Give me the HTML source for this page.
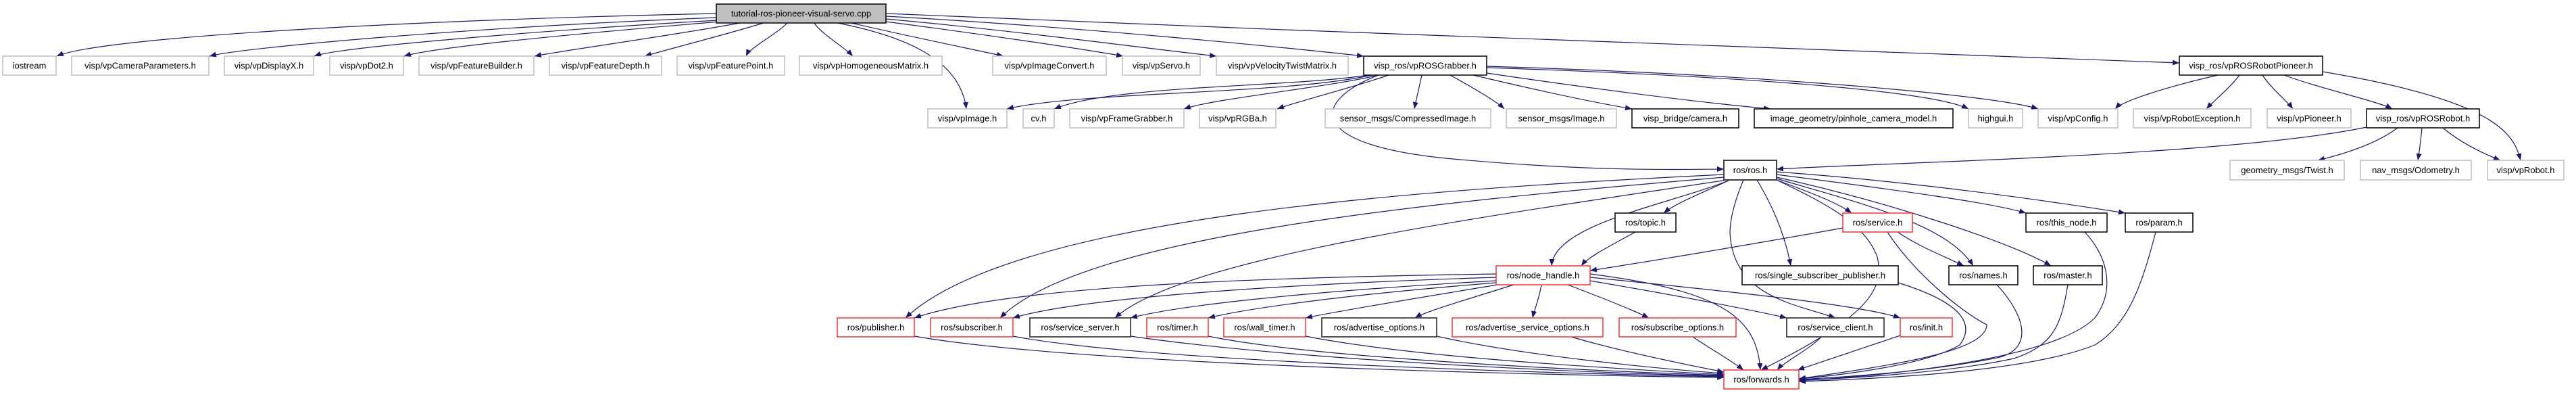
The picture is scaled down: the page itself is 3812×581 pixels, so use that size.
<!DOCTYPE html>
<html><head><meta charset="utf-8"><style>
html,body{margin:0;padding:0;background:#fff}
svg{display:block}
text{font-family:"Liberation Sans",sans-serif;font-size:13px;fill:#000;text-anchor:middle}
.g{fill:#fff;stroke:#bfbfbf;stroke-width:1.5}
.k{fill:#fff;stroke:#000;stroke-width:1.5}
.r{fill:#fff;stroke:#ff3030;stroke-width:1.5}
.e path{fill:none;stroke:#191970;stroke-width:1.2}
</style></head><body>
<svg width="3812" height="581" viewBox="0 0 3812 581" xmlns="http://www.w3.org/2000/svg">
<defs><marker id="a" markerUnits="userSpaceOnUse" markerWidth="11" markerHeight="8" refX="10" refY="4" orient="auto"><path d="M0,0 L10,4 L0,8 z" fill="#191970"/></marker></defs>
<g class="e">
<path marker-end="url(#a)" d="M1060 20 C600 30 150 55 84 83"/>
<path marker-end="url(#a)" d="M1060 26 C700 40 360 70 310 83"/>
<path marker-end="url(#a)" d="M1062 30 C800 45 500 70 465 83"/>
<path marker-end="url(#a)" d="M1065 32 C850 50 640 70 598 83"/>
<path marker-end="url(#a)" d="M1095 34 C980 55 830 75 791 83"/>
<path marker-end="url(#a)" d="M1130 34 C1060 55 980 75 954 83"/>
<path marker-end="url(#a)" d="M1165 34 C1150 50 1110 70 1104 83"/>
<path marker-end="url(#a)" d="M1205 34 C1215 50 1250 70 1262 83"/>
<path marker-end="url(#a)" d="M1240 34 C1320 50 1420 80 1430 161"/>
<path marker-end="url(#a)" d="M1260 34 C1350 55 1450 75 1485 83"/>
<path marker-end="url(#a)" d="M1311 32 C1450 50 1600 72 1662 83"/>
<path marker-end="url(#a)" d="M1311 28 C1500 45 1700 72 1800 83"/>
<path marker-end="url(#a)" d="M1311 24 C1600 40 1900 70 2018 83"/>
<path marker-end="url(#a)" d="M1311 20 C2000 50 2900 80 3225 93"/>
<path marker-end="url(#a)" d="M2030 111 C1900 140 1600 135 1490 161"/>
<path marker-end="url(#a)" d="M2025 111 C1900 130 1650 125 1560 161"/>
<path marker-end="url(#a)" d="M2040 111 C1960 130 1800 145 1752 161"/>
<path marker-end="url(#a)" d="M2055 111 C2000 130 1920 150 1890 161"/>
<path marker-end="url(#a)" d="M2104 111 C2100 130 2095 150 2093 161"/>
<path marker-end="url(#a)" d="M2146 111 C2180 130 2215 150 2226 161"/>
<path marker-end="url(#a)" d="M2180 111 C2260 130 2350 150 2415 161"/>
<path marker-end="url(#a)" d="M2200 108 C2350 130 2500 150 2620 161"/>
<path marker-end="url(#a)" d="M2200 100 C2500 110 2850 130 2913 161"/>
<path marker-end="url(#a)" d="M2200 98 C2600 110 2950 140 3016 161"/>
<path marker-end="url(#a)" d="M2040 111 C1940 150 1930 215 2150 235 S2500 250 2551 250"/>
<path marker-end="url(#a)" d="M3282 111 C3200 130 3140 150 3130 161"/>
<path marker-end="url(#a)" d="M3314 111 C3300 130 3275 150 3265 161"/>
<path marker-end="url(#a)" d="M3348 111 C3360 130 3385 150 3393 161"/>
<path marker-end="url(#a)" d="M3380 111 C3430 130 3520 150 3540 161"/>
<path marker-end="url(#a)" d="M3437 106 C3700 150 3720 200 3730 237"/>
<path marker-end="url(#a)" d="M3502 188 C3300 230 2800 240 2629 250"/>
<path marker-end="url(#a)" d="M3548 189 C3520 210 3480 225 3430 237"/>
<path marker-end="url(#a)" d="M3584 189 C3582 210 3580 225 3578 237"/>
<path marker-end="url(#a)" d="M3615 189 C3640 210 3670 225 3700 237"/>
<path marker-end="url(#a)" d="M2560 266 C2520 285 2480 300 2462 315"/>
<path marker-end="url(#a)" d="M2560 266 C2480 300 2300 330 2296 393"/>
<path marker-end="url(#a)" d="M2551 258 C2100 280 1500 320 1340 470"/>
<path marker-end="url(#a)" d="M2551 262 C2100 300 1600 350 1480 470"/>
<path marker-end="url(#a)" d="M2556 266 C2200 320 1750 380 1650 470"/>
<path marker-end="url(#a)" d="M2580 266 C2570 290 2560 320 2560 345 C2565 440 2660 450 2716 470"/>
<path marker-end="url(#a)" d="M2600 266 C2620 300 2640 340 2650 393"/>
<path marker-end="url(#a)" d="M2629 266 C2680 285 2720 300 2740 315"/>
<path marker-end="url(#a)" d="M2629 264 C2750 300 2880 330 2920 393"/>
<path marker-end="url(#a)" d="M2629 262 C2800 300 2980 360 3035 393"/>
<path marker-end="url(#a)" d="M2629 258 C2800 280 2950 300 2998 315"/>
<path marker-end="url(#a)" d="M2629 254 C2850 270 3050 300 3145 315"/>
<path marker-end="url(#a)" d="M2629 266 C2700 300 2760 330 2778 380 C2790 430 2760 470 2606 547"/>
<path marker-end="url(#a)" d="M2420 343 C2380 365 2350 380 2340 393"/>
<path marker-end="url(#a)" d="M2727 337 C2600 360 2450 385 2353 400"/>
<path marker-end="url(#a)" d="M2808 343 C2840 365 2880 380 2906 393"/>
<path marker-end="url(#a)" d="M2793 343 C2830 400 2900 460 2940 480 C2940 520 2800 540 2662 560"/>
<path marker-end="url(#a)" d="M2214 405 C1900 410 1500 420 1353 470"/>
<path marker-end="url(#a)" d="M2214 410 C1900 420 1600 440 1499 470"/>
<path marker-end="url(#a)" d="M2214 415 C1950 430 1750 450 1673 470"/>
<path marker-end="url(#a)" d="M2214 418 C2000 435 1850 455 1788 470"/>
<path marker-end="url(#a)" d="M2216 421 C2100 440 1980 460 1932 470"/>
<path marker-end="url(#a)" d="M2240 421 C2180 440 2110 460 2094 470"/>
<path marker-end="url(#a)" d="M2281 421 C2278 440 2270 460 2268 470"/>
<path marker-end="url(#a)" d="M2320 421 C2370 440 2420 460 2440 470"/>
<path marker-end="url(#a)" d="M2353 415 C2500 440 2600 460 2644 470"/>
<path marker-end="url(#a)" d="M2353 410 C2550 430 2750 450 2812 470"/>
<path marker-end="url(#a)" d="M2353 405 C2550 430 2600 470 2605 547"/>
<path marker-end="url(#a)" d="M1353 497 C1600 540 2300 555 2551 558"/>
<path marker-end="url(#a)" d="M1499 497 C1700 535 2300 552 2551 557"/>
<path marker-end="url(#a)" d="M1673 497 C1900 530 2300 550 2551 556"/>
<path marker-end="url(#a)" d="M1788 497 C1950 530 2350 548 2551 555"/>
<path marker-end="url(#a)" d="M1932 497 C2100 530 2400 545 2551 554"/>
<path marker-end="url(#a)" d="M2126 497 C2250 525 2450 545 2551 552"/>
<path marker-end="url(#a)" d="M2325 498 C2400 520 2500 540 2551 550"/>
<path marker-end="url(#a)" d="M2505 498 C2530 515 2565 535 2580 547"/>
<path marker-end="url(#a)" d="M2695 498 C2680 515 2640 535 2630 547"/>
<path marker-end="url(#a)" d="M2812 496 C2740 520 2680 540 2660 547"/>
<path marker-end="url(#a)" d="M2809 418 C2880 440 2930 470 2900 510 C2850 540 2720 555 2662 560"/>
<path marker-end="url(#a)" d="M2955 421 C3000 470 3010 520 2950 530 C2850 550 2720 558 2662 561"/>
<path marker-end="url(#a)" d="M3060 421 C3050 480 3040 510 2980 530 C2880 552 2720 560 2662 562"/>
<path marker-end="url(#a)" d="M3085 343 C3120 380 3130 430 3100 470 C3040 530 2800 555 2662 563"/>
<path marker-end="url(#a)" d="M3190 343 C3170 420 3150 480 3100 510 C3000 550 2780 560 2662 564"/>
</g>
<rect x="1060" y="6" width="251" height="28" fill="#bfbfbf" stroke="#000" stroke-width="1.5"/><text x="1185.5" y="24.5">tutorial-ros-pioneer-visual-servo.cpp</text>
<rect class="g" x="4" y="83" width="79" height="28"/><text x="43.5" y="101.5">iostream</text>
<rect class="g" x="106" y="83" width="203" height="28"/><text x="207.5" y="101.5">visp/vpCameraParameters.h</text>
<rect class="g" x="332" y="83" width="132" height="28"/><text x="398" y="101.5">visp/vpDisplayX.h</text>
<rect class="g" x="488" y="83" width="109" height="28"/><text x="542.5" y="101.5">visp/vpDot2.h</text>
<rect class="g" x="620" y="83" width="170" height="28"/><text x="705" y="101.5">visp/vpFeatureBuilder.h</text>
<rect class="g" x="813" y="83" width="166" height="28"/><text x="896" y="101.5">visp/vpFeatureDepth.h</text>
<rect class="g" x="1002" y="83" width="159" height="28"/><text x="1081.5" y="101.5">visp/vpFeaturePoint.h</text>
<rect class="g" x="1183" y="83" width="211" height="28"/><text x="1288.5" y="101.5">visp/vpHomogeneousMatrix.h</text>
<rect class="g" x="1469" y="83" width="168" height="28"/><text x="1553" y="101.5">visp/vpImageConvert.h</text>
<rect class="g" x="1661" y="83" width="115" height="28"/><text x="1718.5" y="101.5">visp/vpServo.h</text>
<rect class="g" x="1800" y="83" width="195" height="28"/><text x="1897.5" y="101.5">visp/vpVelocityTwistMatrix.h</text>
<rect class="k" x="2018" y="83" width="182" height="28"/><text x="2109" y="101.5">visp_ros/vpROSGrabber.h</text>
<rect class="k" x="3225" y="83" width="212" height="28"/><text x="3331" y="101.5">visp_ros/vpROSRobotPioneer.h</text>
<rect class="g" x="1373" y="161" width="117" height="28"/><text x="1431.5" y="179.5">visp/vpImage.h</text>
<rect class="g" x="1514" y="161" width="46" height="28"/><text x="1537" y="179.5">cv.h</text>
<rect class="g" x="1583" y="161" width="169" height="28"/><text x="1667.5" y="179.5">visp/vpFrameGrabber.h</text>
<rect class="g" x="1775" y="161" width="113" height="28"/><text x="1831.5" y="179.5">visp/vpRGBa.h</text>
<rect class="g" x="1961" y="161" width="245" height="28"/><text x="2083.5" y="179.5">sensor_msgs/CompressedImage.h</text>
<rect class="g" x="2229" y="161" width="163" height="28"/><text x="2310.5" y="179.5">sensor_msgs/Image.h</text>
<rect class="k" x="2415" y="161" width="158" height="28"/><text x="2494" y="179.5">visp_bridge/camera.h</text>
<rect class="k" x="2596" y="161" width="294" height="28"/><text x="2743" y="179.5">image_geometry/pinhole_camera_model.h</text>
<rect class="g" x="2913" y="161" width="80" height="28"/><text x="2953" y="179.5">highgui.h</text>
<rect class="g" x="3016" y="161" width="118" height="28"/><text x="3075" y="179.5">visp/vpConfig.h</text>
<rect class="g" x="3157" y="161" width="174" height="28"/><text x="3244" y="179.5">visp/vpRobotException.h</text>
<rect class="g" x="3355" y="161" width="124" height="28"/><text x="3417" y="179.5">visp/vpPioneer.h</text>
<rect class="k" x="3502" y="161" width="167" height="28"/><text x="3585.5" y="179.5">visp_ros/vpROSRobot.h</text>
<rect x="2551" y="237" width="78" height="29" fill="#fff" stroke="#404040" stroke-width="2"/><text x="2590" y="256">ros/ros.h</text>
<rect class="g" x="3300" y="237" width="169" height="29"/><text x="3384.5" y="256">geometry_msgs/Twist.h</text>
<rect class="g" x="3493" y="237" width="164" height="29"/><text x="3575" y="256">nav_msgs/Odometry.h</text>
<rect class="g" x="3681" y="237" width="113" height="29"/><text x="3737.5" y="256">visp/vpRobot.h</text>
<rect class="k" x="2390" y="315" width="90" height="28"/><text x="2435" y="333.5">ros/topic.h</text>
<rect class="r" x="2727" y="315" width="103" height="28"/><text x="2778.5" y="333.5">ros/service.h</text>
<rect class="k" x="2998" y="315" width="120" height="28"/><text x="3058" y="333.5">ros/this_node.h</text>
<rect class="k" x="3145" y="315" width="100" height="28"/><text x="3195" y="333.5">ros/param.h</text>
<rect class="r" x="2214" y="393" width="139" height="28"/><text x="2283.5" y="411.5">ros/node_handle.h</text>
<rect class="k" x="2578" y="393" width="231" height="28"/><text x="2693.5" y="411.5">ros/single_subscriber_publisher.h</text>
<rect class="k" x="2884" y="393" width="102" height="28"/><text x="2935" y="411.5">ros/names.h</text>
<rect class="k" x="3009" y="393" width="102" height="28"/><text x="3060" y="411.5">ros/master.h</text>
<rect class="r" x="1239" y="470" width="114" height="28"/><text x="1296" y="488.5">ros/publisher.h</text>
<rect class="r" x="1377" y="470" width="122" height="28"/><text x="1438" y="488.5">ros/subscriber.h</text>
<rect x="1524" y="470" width="149" height="28" fill="#fff" stroke="#404040" stroke-width="1.8"/><text x="1598.5" y="488.5">ros/service_server.h</text>
<rect class="r" x="1697" y="470" width="91" height="28"/><text x="1742.5" y="488.5">ros/timer.h</text>
<rect class="r" x="1811" y="470" width="121" height="28"/><text x="1871.5" y="488.5">ros/wall_timer.h</text>
<rect x="1956" y="470" width="170" height="28" fill="#fff" stroke="#404040" stroke-width="1.8"/><text x="2041" y="488.5">ros/advertise_options.h</text>
<rect class="r" x="2149" y="470" width="223" height="28"/><text x="2260.5" y="488.5">ros/advertise_service_options.h</text>
<rect class="r" x="2396" y="470" width="173" height="28"/><text x="2482.5" y="488.5">ros/subscribe_options.h</text>
<rect x="2644" y="470" width="144" height="28" fill="#fff" stroke="#404040" stroke-width="1.8"/><text x="2716" y="488.5">ros/service_client.h</text>
<rect class="r" x="2812" y="470" width="77" height="28"/><text x="2850.5" y="488.5">ros/init.h</text>
<rect class="r" x="2551" y="547" width="111" height="28"/><text x="2606.5" y="565.5">ros/forwards.h</text>
</svg>
</body></html>
